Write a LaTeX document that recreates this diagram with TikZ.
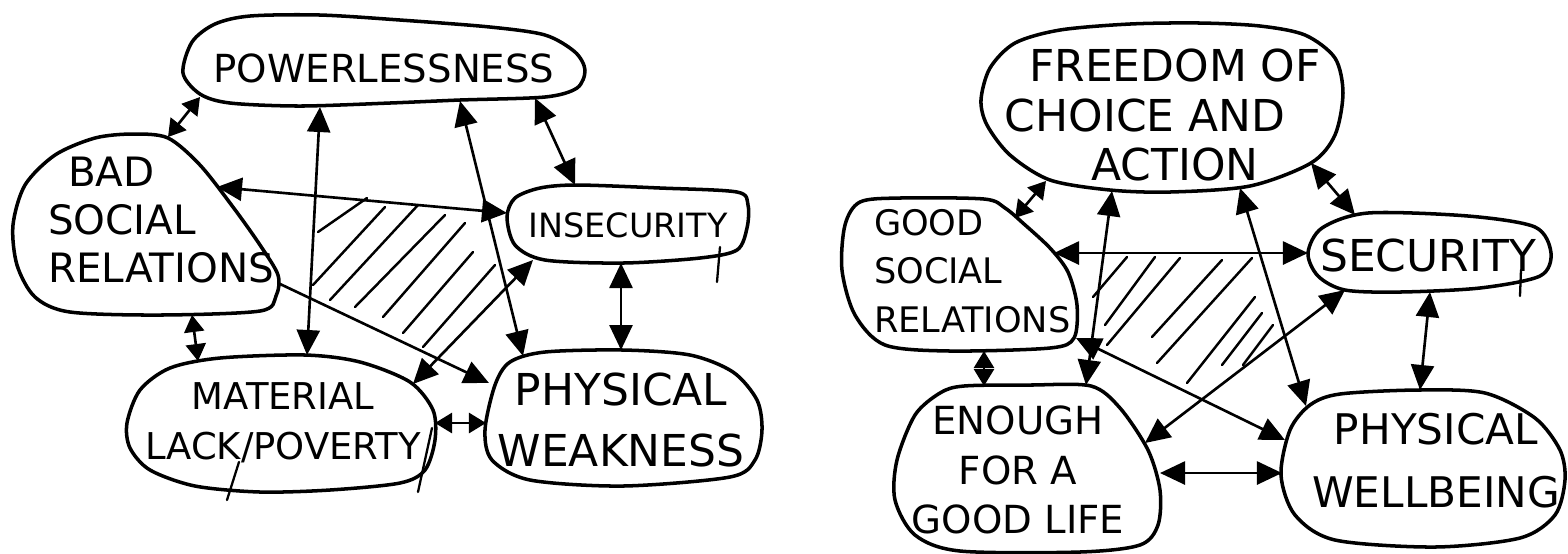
\documentclass[tikz,border=0pt]{standalone}
\usepackage{fontspec}
\newfontfamily\hand{DejaVu Sans}
\usetikzlibrary{arrows.meta}
\tikzset{
  blob/.style={line width=1pt, line join=round},
  link/.style={line width=0.75pt, {Triangle[length=2.5mm,width=2.3mm]}-{Triangle[length=2.5mm,width=2.3mm]}},
  shortlink/.style={line width=0.75pt, {Triangle[length=1.7mm,width=2mm]}-{Triangle[length=1.7mm,width=2mm]}},
  onelink/.style={line width=0.75pt, -{Triangle[length=2.5mm,width=2.3mm]}},
  hatch/.style={line width=0.7pt, line cap=round},
  stray/.style={line width=0.65pt, line cap=round},
  lbl/.style={inner sep=0pt, outer sep=0pt},
}
\begin{document}
\begin{tikzpicture}[x=0.01cm,y=-0.01cm]
\useasboundingbox (0,0) rectangle (1568,553);

% ---------------- LEFT DIAGRAM ----------------
\draw[blob] plot[smooth cycle] coordinates {(183,73) (192,42) (215,24) (250,16) (320,15) (400,20) (490,27) (545,35) (575,52) (585,70) (577,88) (545,97) (460,100) (390,103) (300,106) (230,103) (200,94)};
\draw[blob] plot[smooth cycle] coordinates {(168,138) (133,134) (95,138) (55,155) (25,185) (13,225) (17,265) (35,297) (70,312) (160,315) (260,311) (276,296) (278,275) (260,245) (233,207) (200,165)};
\draw[blob] plot[smooth cycle] coordinates {(507,217) (515,198) (540,188) (577,185) (660,188) (737,192) (748,205) (747,228) (737,250) (700,258) (623,263) (545,260) (515,245)};
\draw[blob] plot[smooth cycle] coordinates {(127,423) (140,390) (170,368) (220,358) (305,355) (360,362) (410,382) (433,410) (435,440) (425,470) (400,483) (330,490) (260,492) (195,486) (150,470) (130,448)};
\draw[blob] plot[smooth cycle] coordinates {(495,385) (510,362) (545,352) (623,350) (690,355) (733,372) (757,400) (762,430) (755,460) (730,477) (623,486) (530,480) (492,460) (485,430)};

\node[lbl, font=\hand\fontsize{11}{13}\selectfont] (pow) at (384,68) {POWERLESSNESS};
\node[lbl, anchor=west, align=left, font=\hand\fontsize{11.5}{13.7}\selectfont] (bsr) at (48,220) {\hspace*{0.2cm}BAD\\SOCIAL\\RELATIONS};
\node[lbl, font=\hand\fontsize{9.5}{11}\selectfont] (ins) at (628,225) {INSECURITY};
\node[lbl, align=center, font=\hand\fontsize{10.5}{14.2}\selectfont] (mat) at (283,423) {MATERIAL\\LACK/POVERTY};
\node[lbl, align=center, font=\hand\fontsize{12.5}{17.1}\selectfont] (phw) at (621,420) {PHYSICAL\\WEAKNESS};

% hatching
\draw[hatch] (318,232) -- (367,198);
\draw[hatch] (313,285) -- (385,207);
\draw[hatch] (330,300) -- (418,205);
\draw[hatch] (355,307) -- (445,215);
\draw[hatch] (383,317) -- (465,223);
\draw[hatch] (403,333) -- (473,252);
\draw[hatch] (423,347) -- (495,265);

% connector end points
\coordinate (pow-bsr) at (200,97);   \coordinate (bsr-pow) at (168,137);
\coordinate (pow-mat) at (320,107);  \coordinate (mat-pow) at (307,355);
\coordinate (pow-phw) at (460,101);  \coordinate (phw-pow) at (523,356);
\coordinate (pow-ins) at (535,98);   \coordinate (ins-pow) at (575,185);
\coordinate (bsr-ins) at (217,187);  \coordinate (ins-bsr) at (507,213);
\coordinate (bsr-phw) at (278,283);  \coordinate (phw-bsr) at (489,383);
\coordinate (bsr-mat) at (192,315);  \coordinate (mat-bsr) at (198,361);
\coordinate (ins-mat) at (533,260);  \coordinate (mat-ins) at (413,384);
\coordinate (ins-phw) at (621,263);  \coordinate (phw-ins) at (621,350);
\coordinate (mat-phw) at (435,423);  \coordinate (phw-mat) at (486,423);

\draw[shortlink] (pow-bsr) -- (bsr-pow);
\draw[link] (pow-mat) -- (mat-pow);
\draw[link] (pow-phw) -- (phw-pow);
\draw[link] (pow-ins) -- (ins-pow);
\draw[link] (bsr-ins) -- (ins-bsr);
\draw[onelink] (bsr-phw) -- (phw-bsr);
\draw[shortlink] (bsr-mat) -- (mat-bsr);
\draw[link] (ins-mat) -- (mat-ins);
\draw[link] (ins-phw) -- (phw-ins);
\draw[shortlink] (mat-phw) -- (phw-mat);

% stray pen marks
\draw[stray] (239,462) -- (227,500);
\draw[stray] (432,428) -- (418,492);
\draw[stray] (720,247) -- (717,282);

% ---------------- RIGHT DIAGRAM ----------------
\draw[blob] plot[smooth cycle] coordinates {(981,100) (990,68) (1015,43) (1060,30) (1130,24) (1200,23) (1260,26) (1305,35) (1335,58) (1343,93) (1335,135) (1311,163) (1250,186) (1170,192) (1110,190) (1050,180) (1010,155) (987,125)};
\draw[blob] plot[smooth cycle] coordinates {(984,199) (900,198) (860,202) (845,225) (842,270) (855,315) (885,345) (950,351) (1050,348) (1074,338) (1077,305) (1068,272) (1050,248) (1024,224) (1005,208)};
\draw[blob] plot[smooth cycle] coordinates {(1308,253) (1322,228) (1368,213) (1468,216) (1535,227) (1551,253) (1540,276) (1480,288) (1400,292) (1345,290) (1318,276)};
\draw[blob] plot[smooth cycle] coordinates {(964,386) (1030,385) (1091,386) (1120,408) (1148,450) (1160,490) (1158,525) (1140,545) (1080,552) (960,551) (915,535) (895,500) (897,460) (915,415) (940,393)};
\draw[blob] plot[smooth cycle] coordinates {(1290,430) (1310,405) (1340,394) (1418,390) (1485,393) (1535,418) (1560,450) (1565,480) (1555,515) (1520,538) (1435,547) (1335,540) (1295,515) (1281,475)};

\node[lbl, align=center, font=\hand\fontsize{12.5}{14.2}\selectfont] (fre) at (1175,115) {FREEDOM OF\\CHOICE AND\rule{0.6cm}{0pt}\\ACTION};
\node[lbl, anchor=west, align=left, font=\hand\fontsize{10}{13.8}\selectfont] (gsr) at (874,271) {GOOD\\SOCIAL\\RELATIONS};
\node[lbl, font=\hand\fontsize{12.5}{14}\selectfont] (sec) at (1428,255) {SECURITY};
\node[lbl, align=center, font=\hand\fontsize{11}{14.1}\selectfont] (eno) at (1018,470) {ENOUGH\\FOR A\\GOOD LIFE};
\node[lbl, align=center, font=\hand\fontsize{12}{17.9}\selectfont] (phb) at (1436,461) {PHYSICAL\\WELLBEING};

% hatching
\draw[hatch] (1093,297) -- (1127,257);
\draw[hatch] (1105,325) -- (1155,257);
\draw[hatch] (1107,345) -- (1180,258);
\draw[hatch] (1152,337) -- (1222,260);
\draw[hatch] (1157,363) -- (1252,258);
\draw[hatch] (1187,383) -- (1255,297);
\draw[hatch] (1222,365) -- (1262,313);
\draw[hatch] (1243,365) -- (1273,325);

% connector end points
\coordinate (fre-gsr) at (1046,181); \coordinate (gsr-fre) at (1015,218);
\coordinate (fre-eno) at (1112,191); \coordinate (eno-fre) at (1086,385);
\coordinate (fre-phb) at (1240,188); \coordinate (phb-fre) at (1306,406);
\coordinate (fre-sec) at (1311,163); \coordinate (sec-fre) at (1355,215);
\coordinate (gsr-sec) at (1054,253); \coordinate (sec-gsr) at (1308,253);
\coordinate (gsr-eno) at (984,351);  \coordinate (eno-gsr) at (984,386);
\coordinate (gsr-phb) at (1076,338); \coordinate (phb-gsr) at (1285,440);
\coordinate (sec-eno) at (1345,290); \coordinate (eno-sec) at (1145,443);
\coordinate (sec-phb) at (1430,292); \coordinate (phb-sec) at (1420,390);
\coordinate (eno-phb) at (1160,473); \coordinate (phb-eno) at (1282,473);

\draw[shortlink] (fre-gsr) -- (gsr-fre);
\draw[link] (fre-eno) -- (eno-fre);
\draw[link] (fre-phb) -- (phb-fre);
\draw[link] (fre-sec) -- (sec-fre);
\draw[link] (gsr-sec) -- (sec-gsr);
\draw[shortlink] (gsr-eno) -- (eno-gsr);
\draw[link] (gsr-phb) -- (phb-gsr);
\draw[link] (sec-eno) -- (eno-sec);
\draw[link] (sec-phb) -- (phb-sec);
\draw[link] (eno-phb) -- (phb-eno);

% stray pen mark
\draw[stray] (1521,270) -- (1520,296);
\end{tikzpicture}
\end{document}
